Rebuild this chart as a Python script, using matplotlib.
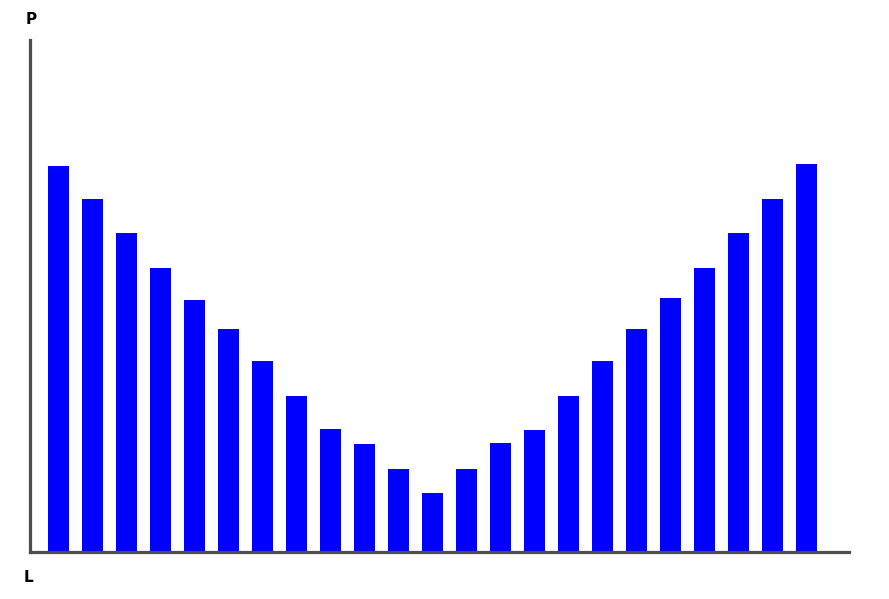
import matplotlib
matplotlib.use('Agg')
import matplotlib.pyplot as plt
import numpy as np

# bar heights (axis units: pixels above baseline)
heights = [386, 353, 319, 284, 252, 223, 191, 156, 123, 108, 83, 59,
           83, 109, 122, 156, 191, 223, 254, 284, 319, 353, 388]
x_label = 'L'
y_label = 'P'

W, H = 889, 599
fig = plt.figure(figsize=(W / 100, H / 100), dpi=100)
# axes box in pixel coords: x 30..849, y 40..552
ax = fig.add_axes([30 / W, (H - 552) / H, (849 - 30) / W, (552 - 40) / H])

x = np.arange(len(heights))
ax.bar(x, heights, width=0.62, color='#0000ff', zorder=1)

ax.set_xlim(-0.84, 23.25)
ax.set_ylim(0, 512)
for s in ['top', 'right']:
    ax.spines[s].set_visible(False)
for s in ['left', 'bottom']:
    ax.spines[s].set_color('#4d4d4d')
    ax.spines[s].set_linewidth(2.3)
    ax.spines[s].set_zorder(3)
ax.set_xticks([])
ax.set_yticks([])

fig.text(31 / W, 1 - 20 / H, y_label, ha='center', va='center', fontsize=11, fontweight='bold')
fig.text(28 / W, 1 - 578 / H, x_label, ha='center', va='center', fontsize=11, fontweight='bold')

fig.savefig('out.png', dpi=100)
